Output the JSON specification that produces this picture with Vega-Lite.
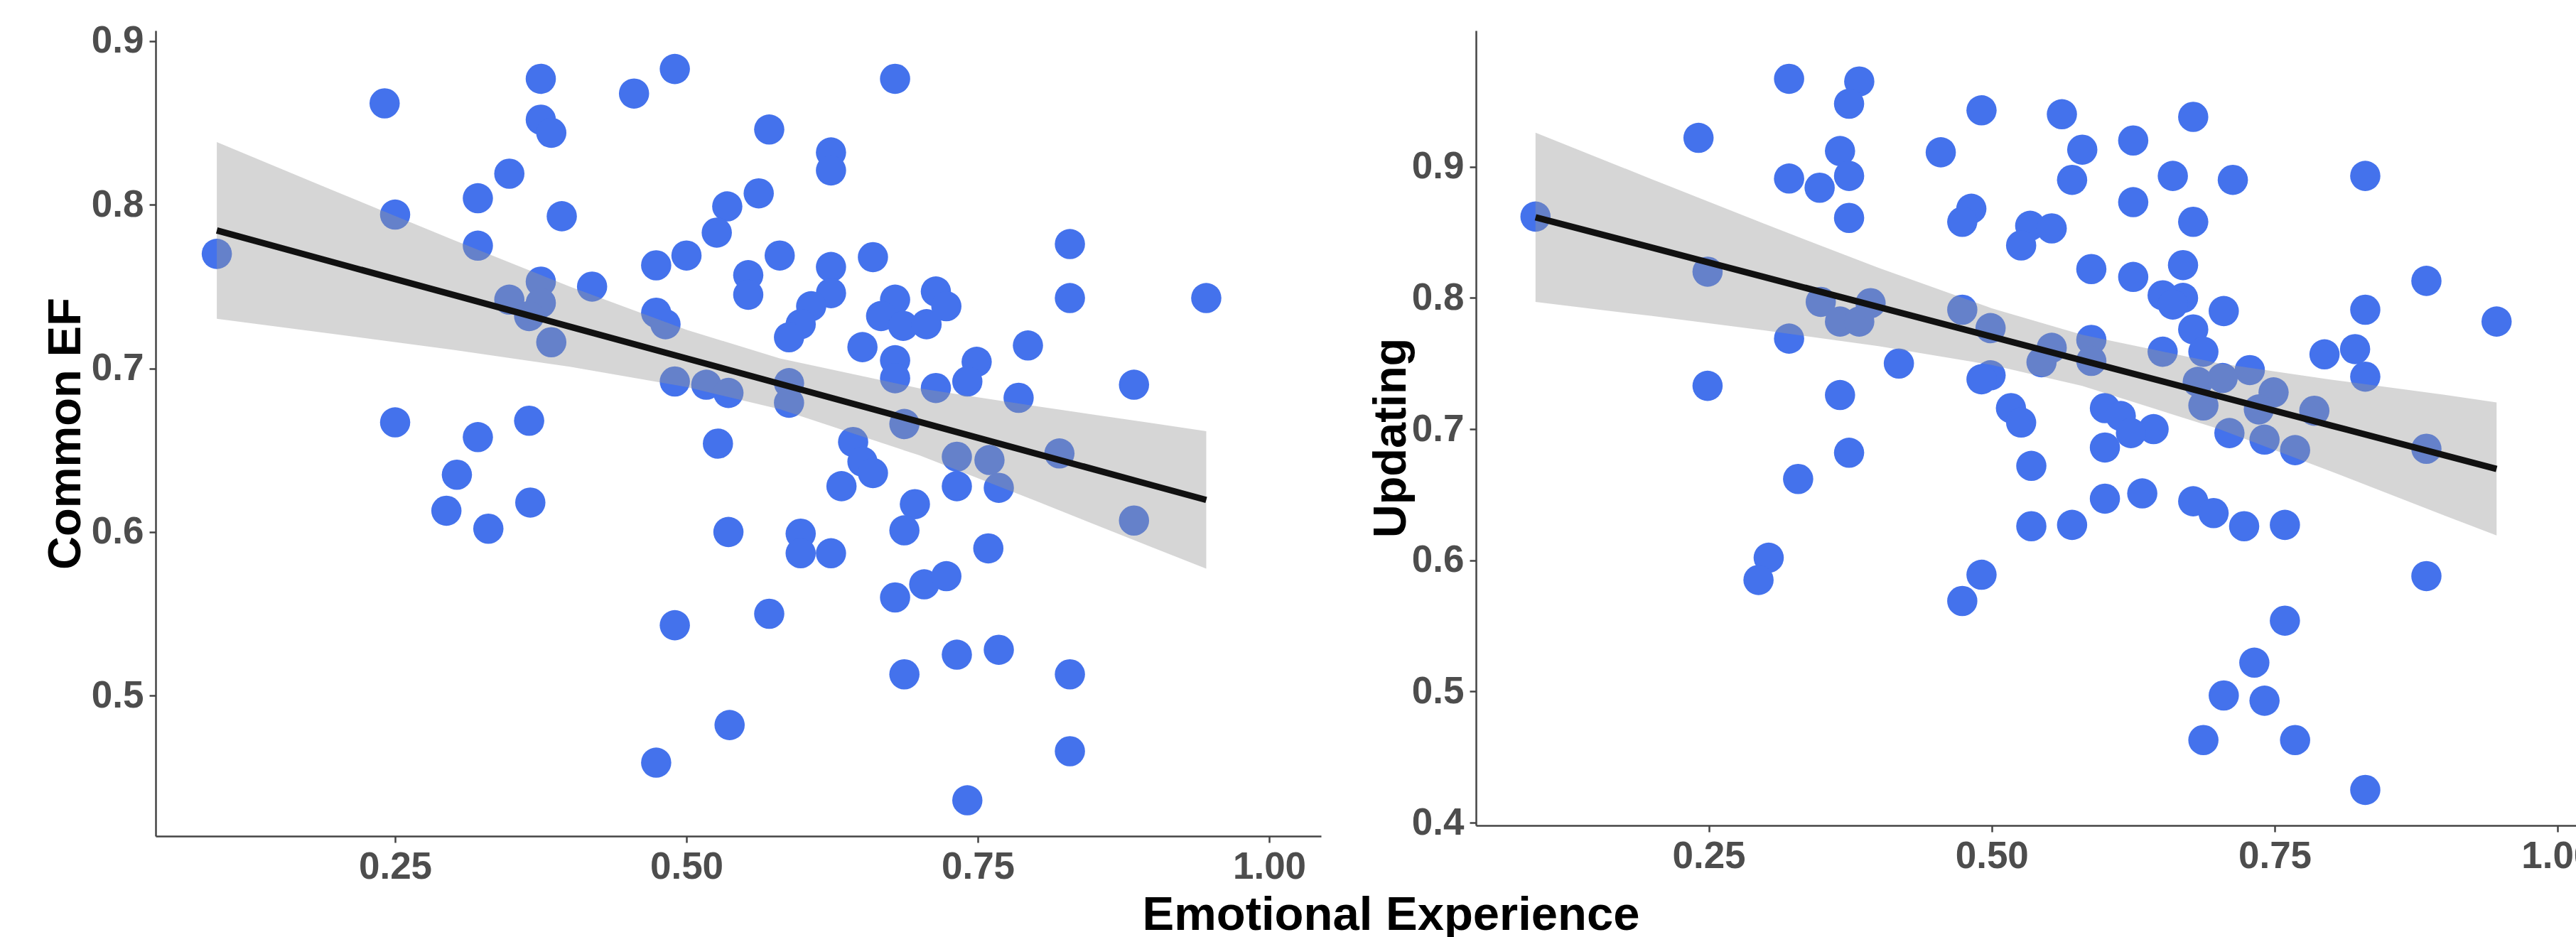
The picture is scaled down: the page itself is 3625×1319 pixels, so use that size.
{
  "$schema": "https://vega.github.io/schema/vega-lite/v6.json",
  "background": "white",
  "padding": {"left": 60, "top": 31, "right": 0, "bottom": 0},
  "bounds": "flush",
  "spacing": 218,
  "config": {
    "view": {"stroke": null},
    "font": "Liberation Sans",
    "axis": {
      "grid": false,
      "domainColor": "#444444",
      "domainWidth": 2.5,
      "tickColor": "#444444",
      "tickWidth": 2.5,
      "tickSize": 9,
      "labelFont": "Liberation Sans",
      "labelFontWeight": "bold",
      "labelFontSize": 53,
      "labelColor": "#4D4D4D",
      "labelPadding": 8,
      "titleFont": "Liberation Sans",
      "titleFontWeight": "bold",
      "titleFontSize": 65,
      "titleColor": "#000000"
    }
  },
  "datasets": {
    "cef": [
      {"ee":0.097,"v":0.770},{"ee":0.241,"v":0.862},{"ee":0.250,"v":0.794},{"ee":0.375,"v":0.877},{"ee":0.375,"v":0.852},
      {"ee":0.384,"v":0.844},{"ee":0.348,"v":0.819},{"ee":0.321,"v":0.804},{"ee":0.393,"v":0.793},{"ee":0.321,"v":0.775},
      {"ee":0.455,"v":0.868},{"ee":0.490,"v":0.883},{"ee":0.535,"v":0.799},{"ee":0.526,"v":0.783},{"ee":0.500,"v":0.769},
      {"ee":0.474,"v":0.763},{"ee":0.375,"v":0.753},{"ee":0.348,"v":0.742},{"ee":0.375,"v":0.740},{"ee":0.365,"v":0.732},
      {"ee":0.384,"v":0.716},{"ee":0.419,"v":0.750},{"ee":0.474,"v":0.734},{"ee":0.482,"v":0.727},{"ee":0.490,"v":0.692},
      {"ee":0.517,"v":0.690},{"ee":0.536,"v":0.685},{"ee":0.250,"v":0.667},{"ee":0.365,"v":0.668},{"ee":0.321,"v":0.658},
      {"ee":0.303,"v":0.635},{"ee":0.294,"v":0.613},{"ee":0.330,"v":0.602},{"ee":0.366,"v":0.618},{"ee":0.527,"v":0.654},
      {"ee":0.536,"v":0.600},{"ee":0.490,"v":0.543},{"ee":0.537,"v":0.482},{"ee":0.474,"v":0.459},{"ee":0.679,"v":0.877},
      {"ee":0.571,"v":0.846},{"ee":0.624,"v":0.832},{"ee":0.624,"v":0.821},{"ee":0.562,"v":0.807},{"ee":0.580,"v":0.769},
      {"ee":0.553,"v":0.757},{"ee":0.553,"v":0.745},{"ee":0.624,"v":0.762},{"ee":0.660,"v":0.768},{"ee":0.624,"v":0.746},
      {"ee":0.607,"v":0.738},{"ee":0.598,"v":0.727},{"ee":0.588,"v":0.719},{"ee":0.679,"v":0.742},{"ee":0.667,"v":0.732},
      {"ee":0.686,"v":0.726},{"ee":0.706,"v":0.727},{"ee":0.714,"v":0.747},{"ee":0.723,"v":0.738},{"ee":0.829,"v":0.776},
      {"ee":0.829,"v":0.743},{"ee":0.946,"v":0.743},{"ee":0.793,"v":0.714},{"ee":0.651,"v":0.713},{"ee":0.679,"v":0.705},
      {"ee":0.679,"v":0.694},{"ee":0.749,"v":0.704},{"ee":0.741,"v":0.692},{"ee":0.714,"v":0.688},{"ee":0.785,"v":0.682},
      {"ee":0.884,"v":0.690},{"ee":0.588,"v":0.691},{"ee":0.588,"v":0.679},{"ee":0.687,"v":0.666},{"ee":0.643,"v":0.655},
      {"ee":0.732,"v":0.646},{"ee":0.760,"v":0.644},{"ee":0.820,"v":0.648},{"ee":0.651,"v":0.643},{"ee":0.660,"v":0.636},
      {"ee":0.633,"v":0.628},{"ee":0.732,"v":0.628},{"ee":0.768,"v":0.627},{"ee":0.884,"v":0.607},{"ee":0.696,"v":0.617},
      {"ee":0.687,"v":0.601},{"ee":0.598,"v":0.599},{"ee":0.598,"v":0.587},{"ee":0.624,"v":0.587},{"ee":0.759,"v":0.590},
      {"ee":0.571,"v":0.550},{"ee":0.679,"v":0.560},{"ee":0.704,"v":0.568},{"ee":0.723,"v":0.573},{"ee":0.732,"v":0.525},
      {"ee":0.768,"v":0.528},{"ee":0.687,"v":0.513},{"ee":0.829,"v":0.513},{"ee":0.829,"v":0.466},{"ee":0.741,"v":0.436}
    ],
    "upd": [
      {"ee":0.097,"v":0.862},{"ee":0.241,"v":0.922},{"ee":0.249,"v":0.820},{"ee":0.249,"v":0.733},{"ee":0.321,"v":0.967},
      {"ee":0.383,"v":0.965},{"ee":0.374,"v":0.948},{"ee":0.366,"v":0.912},{"ee":0.321,"v":0.891},{"ee":0.348,"v":0.884},
      {"ee":0.374,"v":0.893},{"ee":0.374,"v":0.861},{"ee":0.491,"v":0.943},{"ee":0.455,"v":0.911},{"ee":0.482,"v":0.868},
      {"ee":0.474,"v":0.858},{"ee":0.349,"v":0.797},{"ee":0.366,"v":0.782},{"ee":0.383,"v":0.782},{"ee":0.393,"v":0.796},
      {"ee":0.321,"v":0.769},{"ee":0.418,"v":0.750},{"ee":0.366,"v":0.726},{"ee":0.474,"v":0.791},{"ee":0.499,"v":0.777},
      {"ee":0.499,"v":0.741},{"ee":0.491,"v":0.738},{"ee":0.517,"v":0.716},{"ee":0.329,"v":0.662},{"ee":0.374,"v":0.682},
      {"ee":0.303,"v":0.602},{"ee":0.294,"v":0.585},{"ee":0.491,"v":0.589},{"ee":0.474,"v":0.569},{"ee":0.562,"v":0.940},
      {"ee":0.580,"v":0.913},{"ee":0.571,"v":0.890},{"ee":0.625,"v":0.920},{"ee":0.678,"v":0.938},{"ee":0.660,"v":0.893},
      {"ee":0.713,"v":0.890},{"ee":0.830,"v":0.893},{"ee":0.625,"v":0.873},{"ee":0.678,"v":0.858},{"ee":0.534,"v":0.855},
      {"ee":0.553,"v":0.853},{"ee":0.526,"v":0.840},{"ee":0.588,"v":0.822},{"ee":0.625,"v":0.816},{"ee":0.669,"v":0.825},
      {"ee":0.651,"v":0.802},{"ee":0.669,"v":0.800},{"ee":0.660,"v":0.795},{"ee":0.705,"v":0.790},{"ee":0.830,"v":0.791},
      {"ee":0.884,"v":0.813},{"ee":0.946,"v":0.782},{"ee":0.678,"v":0.776},{"ee":0.687,"v":0.759},{"ee":0.794,"v":0.757},
      {"ee":0.821,"v":0.761},{"ee":0.830,"v":0.740},{"ee":0.553,"v":0.762},{"ee":0.544,"v":0.751},{"ee":0.588,"v":0.768},
      {"ee":0.588,"v":0.752},{"ee":0.651,"v":0.759},{"ee":0.728,"v":0.745},{"ee":0.682,"v":0.736},{"ee":0.704,"v":0.739},
      {"ee":0.749,"v":0.728},{"ee":0.687,"v":0.718},{"ee":0.736,"v":0.715},{"ee":0.785,"v":0.714},{"ee":0.710,"v":0.697},
      {"ee":0.741,"v":0.692},{"ee":0.600,"v":0.716},{"ee":0.614,"v":0.710},{"ee":0.643,"v":0.700},{"ee":0.623,"v":0.697},
      {"ee":0.600,"v":0.686},{"ee":0.526,"v":0.705},{"ee":0.884,"v":0.685},{"ee":0.768,"v":0.684},{"ee":0.535,"v":0.672},
      {"ee":0.535,"v":0.626},{"ee":0.571,"v":0.627},{"ee":0.600,"v":0.647},{"ee":0.633,"v":0.651},{"ee":0.678,"v":0.645},
      {"ee":0.696,"v":0.636},{"ee":0.723,"v":0.626},{"ee":0.759,"v":0.627},{"ee":0.884,"v":0.588},{"ee":0.759,"v":0.554},
      {"ee":0.732,"v":0.522},{"ee":0.705,"v":0.497},{"ee":0.741,"v":0.493},{"ee":0.687,"v":0.463},{"ee":0.768,"v":0.463},
      {"ee":0.830,"v":0.425}
    ],
    "bandL": [
      {"ee":0.097,"fit":0.7843,"lo":0.7303,"hi":0.8383},
      {"ee":0.2,"fit":0.7643,"lo":0.7208,"hi":0.8078},
      {"ee":0.3,"fit":0.7449,"lo":0.7113,"hi":0.7785},
      {"ee":0.4,"fit":0.7255,"lo":0.7010,"hi":0.7500},
      {"ee":0.5,"fit":0.7061,"lo":0.6886,"hi":0.7236},
      {"ee":0.58,"fit":0.6906,"lo":0.6751,"hi":0.7061},
      {"ee":0.7,"fit":0.6673,"lo":0.6468,"hi":0.6878},
      {"ee":0.8,"fit":0.6479,"lo":0.6189,"hi":0.6769},
      {"ee":0.9,"fit":0.6285,"lo":0.5905,"hi":0.6665},
      {"ee":0.946,"fit":0.6196,"lo":0.5776,"hi":0.6616}
    ],
    "bandR": [
      {"ee":0.097,"fit":0.8615,"lo":0.7970,"hi":0.9260},
      {"ee":0.2,"fit":0.8383,"lo":0.7862,"hi":0.8904},
      {"ee":0.3,"fit":0.8157,"lo":0.7752,"hi":0.8562},
      {"ee":0.4,"fit":0.7931,"lo":0.7633,"hi":0.8229},
      {"ee":0.5,"fit":0.7705,"lo":0.7489,"hi":0.7921},
      {"ee":0.58,"fit":0.7524,"lo":0.7329,"hi":0.7719},
      {"ee":0.7,"fit":0.7253,"lo":0.7003,"hi":0.7503},
      {"ee":0.8,"fit":0.7027,"lo":0.6677,"hi":0.7377},
      {"ee":0.9,"fit":0.6801,"lo":0.6341,"hi":0.7261},
      {"ee":0.946,"fit":0.6697,"lo":0.6190,"hi":0.7204}
    ]
  },
  "hconcat": [
    {
      "width": 1640,
      "height": 1134,
      "layer": [
        {
          "data": {"name": "cef"},
          "mark": {"type": "circle", "size": 1810, "color": "#4472EC", "opacity": 1},
          "encoding": {
            "x": {"field": "ee", "type": "quantitative",
                  "scale": {"domain": [0.0445, 1.0445], "nice": false, "zero": false},
                  "axis": {"values": [0.25, 0.5, 0.75, 1.0], "format": ".2f",
                           "title": "Emotional Experience", "titleX": 1738, "titleY": 131,
                           "titleFontSize": 67,
                           "titleBaseline": "alphabetic", "titleAlign": "center"}},
            "y": {"field": "v", "type": "quantitative",
                  "scale": {"domain": [0.4141, 0.9065], "nice": false, "zero": false},
                  "axis": {"values": [0.5, 0.6, 0.7, 0.8, 0.9], "format": ".1f",
                           "title": "Common EF", "titleX": -107, "titleY": 567,
                           "titleBaseline": "alphabetic", "titleAlign": "center"}}
          }
        },
        {
          "data": {"name": "bandL"},
          "mark": {"type": "area", "color": "#999999", "opacity": 0.4},
          "encoding": {
            "x": {"field": "ee", "type": "quantitative"},
            "y": {"field": "lo", "type": "quantitative"},
            "y2": {"field": "hi"}
          }
        },
        {
          "data": {"name": "bandL"},
          "mark": {"type": "line", "color": "#111111", "strokeWidth": 9},
          "encoding": {
            "x": {"field": "ee", "type": "quantitative"},
            "y": {"field": "fit", "type": "quantitative"}
          }
        }
      ]
    },
    {
      "width": 1593,
      "height": 1119,
      "layer": [
        {
          "data": {"name": "upd"},
          "mark": {"type": "circle", "size": 1810, "color": "#4472EC", "opacity": 1},
          "encoding": {
            "x": {"field": "ee", "type": "quantitative",
                  "scale": {"domain": [0.0444, 1.0444], "nice": false, "zero": false},
                  "axis": {"values": [0.25, 0.5, 0.75, 1.0], "format": ".2f", "title": null}},
            "y": {"field": "v", "type": "quantitative",
                  "scale": {"domain": [0.3979, 1.0038], "nice": false, "zero": false},
                  "axis": {"values": [0.4, 0.5, 0.6, 0.7, 0.8, 0.9], "format": ".1f",
                           "title": "Updating", "titleX": -100, "titleY": 573,
                           "titleBaseline": "alphabetic", "titleAlign": "center"}}
          }
        },
        {
          "data": {"name": "bandR"},
          "mark": {"type": "area", "color": "#999999", "opacity": 0.4},
          "encoding": {
            "x": {"field": "ee", "type": "quantitative"},
            "y": {"field": "lo", "type": "quantitative"},
            "y2": {"field": "hi"}
          }
        },
        {
          "data": {"name": "bandR"},
          "mark": {"type": "line", "color": "#111111", "strokeWidth": 9},
          "encoding": {
            "x": {"field": "ee", "type": "quantitative"},
            "y": {"field": "fit", "type": "quantitative"}
          }
        }
      ]
    }
  ]
}
